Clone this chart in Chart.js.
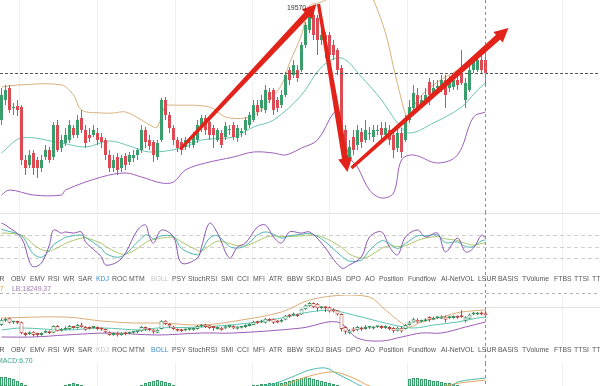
<!DOCTYPE html>
<html>
<head>
<meta charset="utf-8">
<script src="https://cdn.jsdelivr.net/npm/chart.js@4.4.1/dist/chart.umd.min.js"></script>
<style>
  html, body { margin: 0; padding: 0; background: #fff; }
  #wrap { position: relative; width: 600px; height: 386px; overflow: hidden; font-family: "Liberation Sans", Arial, sans-serif; }
  canvas { position: absolute; left: 0; display: block; }
  .row { position: absolute; left: 0; width: 600px; height: 10px; }
  .row span { position: absolute; top: 0; font-size: 8px; line-height: 10px; color: #555; white-space: nowrap; transform: scaleX(0.86); transform-origin: 0 50%; }
  .lbl { position: absolute; font-size: 8px; line-height: 10px; white-space: nowrap; transform: scaleX(0.86); transform-origin: 0 50%; }
</style>
</head>
<body>
<div id="wrap">
  <canvas id="main" width="600" height="212" style="top:0"></canvas>
  <canvas id="kdj" width="600" height="83" style="top:212px"></canvas>
  <canvas id="mini" width="600" height="68" style="top:295px"></canvas>
  <canvas id="macd" width="600" height="23" style="top:363px"></canvas>
  <div class="row" id="tabs1" style="top:274px"></div>
  <div class="row" id="tabs2" style="top:345px"></div>
  <div class="lbl" style="top:284px; right:596px; color:#e0a04a; transform-origin:100% 50%">UB:19470.17</div>
  <div class="lbl" style="top:284px; left:12px; color:#a27bb6">LB:18249.37</div>
  <div class="lbl" style="top:356px; left:-3px; color:#36a58a">MACD:6.70</div>
  <div class="lbl" id="hiLabel" style="color:#333"></div>
</div>
<script>
// candles (one per slot, newest last)
const opens = [
  19020,19120,19180,19080,19090,19085,18820,18795,18855,18820,
  18780,18835,18870,18835,18995,18880,18905,18920,18980,18945,
  19030,18970,18945,18945,18955,18935,18920,18845,18780,18835,
  18780,18840,18810,18830,18845,18870,18970,18920,18910,18835,
  18920,19120,19045,18980,18920,18910,18885,18905,18895,18920,
  18980,19030,19010,18980,18920,18955,18935,18970,18995,18930,
  18955,18970,18995,19020,19095,19080,19070,19160,19170,19120,
  19095,19145,19270,19245,19270,19270,19395,19470,19545,19530,
  19420,19445,19445,19395,19370,19280,18970,18820,18935,18895,
  18960,18920,18950,18935,18965,18980,18945,18970,18945,18880,
  18955,18920,19020,19080,19145,19095,19110,19210,19145,19180,
  19170,19220,19180,19185,19220,19255,19120,19170,19270,19270,
  19320,19320
];
const highs = [
  19180,19195,19195,19105,19120,19095,18845,18870,18870,18835,
  18845,18895,18885,19010,19020,18945,18980,19020,18995,19045,
  19070,18995,18980,18995,18980,18955,18930,18870,18845,18855,
  18845,18855,18860,18870,18880,18995,18985,18945,18920,18920,
  19130,19135,19060,18995,18935,18930,18935,18930,18960,19020,
  19045,19045,19020,18995,18980,18970,19010,18995,19010,18995,
  18980,19035,19060,19120,19120,19145,19195,19180,19180,19135,
  19170,19260,19285,19320,19295,19410,19510,19570,19560,19545,
  19470,19460,19460,19420,19380,19295,18995,18920,18970,18995,
  18980,19020,18985,18995,18995,19010,19010,18995,18970,18980,
  18980,19045,19120,19195,19180,19145,19180,19230,19220,19220,
  19245,19245,19240,19245,19245,19370,19230,19295,19335,19330,
  19345,19360
];
const lows = [
  18995,19095,19055,19045,19040,18795,18745,18780,18745,18730,
  18760,18820,18805,18820,18860,18860,18890,18905,18930,18930,
  18955,18880,18910,18935,18895,18880,18820,18760,18760,18745,
  18760,18770,18795,18810,18820,18855,18880,18870,18810,18820,
  18910,19020,18955,18895,18860,18845,18870,18880,18880,18905,
  18960,18945,18920,18880,18910,18880,18920,18945,18920,18910,
  18935,18945,18980,19010,19040,19060,19055,19105,19045,19060,
  19080,19135,19195,19230,19210,19260,19380,19455,19420,19345,
  19395,19330,19320,19320,19245,18860,18795,18795,18845,18870,
  18880,18905,18920,18910,18945,18920,18920,18895,18830,18860,
  18830,18910,19005,19070,19060,19080,19095,19095,19130,19160,
  19160,19080,19160,19170,19170,19195,19080,19160,19255,19260,
  19255,19195
];
const closes = [
  19145,19170,19070,19085,19070,18820,18780,18845,18780,18780,
  18820,18870,18820,18995,18870,18920,18945,18995,18945,19020,
  18970,18905,18930,18970,18920,18910,18845,18780,18820,18770,
  18830,18795,18845,18845,18870,18970,18910,18890,18845,18905,
  19120,19045,18980,18920,18880,18870,18920,18910,18945,18995,
  19030,18970,18945,18945,18970,18895,18990,18975,18935,18980,
  18965,19020,19045,19095,19060,19120,19170,19120,19070,19080,
  19145,19245,19220,19295,19230,19395,19495,19545,19445,19420,
  19445,19420,19345,19345,19270,18920,18855,18885,18870,18970,
  18910,18970,18955,18970,18970,18945,18980,18920,18870,18955,
  18860,19020,19085,19155,19080,19120,19145,19145,19180,19190,
  19220,19145,19220,19220,19195,19205,19205,19270,19320,19320,
  19270,19255
];

// main BOLL (candle index -> value)
const ubIdx = [0,4,15,18,20,25,28,31,35,38,39,41,42,52,56,61,64,67,70,72,75,77,80,83,85,90,93,96,98,100,101,102,104,109,114,117,121];
const ubVals = [19185,19195,19195,19145,19070,19055,19055,19060,19020,18985,18985,19095,19095,19085,19035,19030,19055,19120,19195,19305,19445,19590,19610,19645,19695,19745,19620,19455,19285,19120,19050,19030,19120,19210,19270,19320,19370];
const mbIdx = [0,5,15,21,27,32,37,45,50,58,63,68,75,80,85,90,95,99,102,108,115,119,121];
const mbVals = [18855,18930,18905,18885,18915,18890,18860,18880,18920,18935,18985,19020,19145,19285,19330,19235,19120,19005,18955,19005,19085,19170,19205];
const lbIdx = [0,2,8,15,16,25,31,35,40,43,46,51,58,63,68,71,75,79,83,84,87,89,92,95,98,100,103,109,114,118,121];
const lbVals = [18645,18670,18645,18645,18670,18735,18755,18735,18705,18710,18770,18805,18835,18860,18855,18845,18880,18920,19055,19045,18835,18785,18670,18630,18655,18820,18845,18805,18845,19035,19060];

// trend arrows: start / end (candle index, price)
const arrowFromX = [44.75, 79.25, 87.5];
const arrowFromY = [18875, 19600, 18780];
const arrowToX = [78.75, 86.5, 126.75];
const arrowToY = [19600, 18760, 19480];

// KDJ
const kdjIdx = [0,1,5,7,8,10,12,13,15,16,18,20,21,25,26,29,31,34,36,37,38,40,43,45,49,50,52,54,57,59,61,64,66,68,70,72,75,77,80,85,87,90,92,95,97,99,101,104,106,109,111,114,116,118,120,121];
const jVals = [111,106,72,10,-3,7,55,93,85,88,85,88,62,23,2,10,33,93,106,75,59,93,75,7,20,49,111,85,20,49,59,101,106,75,59,88,85,88,59,-6,2,23,75,88,49,28,75,93,75,85,36,72,36,46,80,72];
const kVals = [95,92,78,45,30,22,40,55,68,74,78,80,74,45,32,22,30,62,80,78,70,78,76,45,28,38,72,78,50,46,52,80,88,82,72,78,82,84,70,25,12,15,40,65,58,45,58,78,78,80,60,62,50,50,65,67];
const dVals = [85,85,80,65,55,42,38,42,52,58,66,72,73,58,50,34,30,45,60,66,68,72,74,62,40,38,52,64,58,52,52,64,74,78,76,76,78,80,76,48,30,20,25,45,52,50,52,66,72,76,70,66,58,54,58,60];

// BOLL sub panel
const muIdx = [0,16,25,33,40,50,60,70,77,86,92,96,100,102,105,110,115,121];
const muVals = [19186,19210,19114,19066,19066,19018,19138,19330,19618,19738,19690,19378,19066,18970,19090,19210,19330,19378];
const mmIdx = [0,5,16,25,35,39,50,62,70,77,83,85,91,98,103,108,114,119,121];
const mmVals = [18898,18946,18898,18946,18898,18946,18970,19066,19186,19330,19378,19330,19186,19018,18946,19018,19090,19186,19210];
const mlIdx = [0,8,16,27,39,50,58,75,84,89,95,100,105,110,116,121];
const mlVals = [18730,18730,18778,18826,18778,18826,18826,18946,19090,18706,18634,18730,18826,18826,18970,19090];

// MACD
const macdHist = [
  9,9,8,7,5,3,1,
  -2,-4,-6,-7,-6,-5,-3,-2,-1,
  1,2,3,2,1,
  -1,-2,-4,-6,-7,-8,-8,-7,-6,-5,-4,-3,-2,-1,
  1,3,4,5,6,5,4,3,1,
  -1,-2,-3,-3,-2,-2,-1,-1,-2,-2,-1,-1,-1,-1,-1,-1,-1,-1,-1,
  1,1,2,2,3,3,4,3,4,5,6,7,8,9,8,7,6,5,4,3,2,1,
  -3,-6,-9,-10,-10,-9,-8,-7,-6,-5,-4,-3,-3,-2,-2,-1,-1,
  7,8,8,7,7,6,5,5,4,3,3,2,1,
  -1,-1,-2,-1,-1,-1,-1
];
const difIdx = [0,30,50,66,68,72,75,77,81,84,87,90,100,106,112,114,121];
const difVals = [-5,-10,-6,0,2,8,13,16,18,12,6,0,-10,-5,-2,4,8];
const deaIdx = [0,30,50,70,74,78,83,88,92,100,108,113,121];
const deaVals = [-3,-8,-7,0,6,11,14,8,0,-8,-3,2,6];

// vertical grid positions (candle index)
const gridAt = [4.5, 24, 43.5, 62.75, 82, 101.5, 140.25];

const tabNames = ['VR','OBV','EMV','RSI','WR','SAR','KDJ','ROC','MTM','BOLL','PSY','StochRSI','SMI','CCI','MFI','ATR','BBW','SKDJ','BIAS','DPO','AO','Position','Fundflow','AI-NetVOL','LSUR','BASIS','TVolume','FTBS','TTSI','TTS'];
const tabLeft = [-5,11,30,48,63,78,96,112,129,151,172,188,221,237,253,269,287,306,326,346,365,379,408,441,478,498,522,554,574,592];

const GREEN = '#3a9e6c', RED = '#dc4b53';
const lastIdx = closes.length - 1;
const candleIdx = closes.map((_, i) => i);
const isUp = i => closes[i] >= opens[i];
const pts = (xs, ys) => xs.map((x, k) => ({ x, y: ys[k] }));

function fillTabs(el, active, muted) {
  tabNames.forEach((t, k) => {
    const s = document.createElement('span');
    s.textContent = t;
    s.style.left = tabLeft[k] + 'px';
    if (t === active) s.style.color = '#3d8fd6';
    if (t === muted) s.style.color = '#c4c4c4';
    el.appendChild(s);
  });
}
fillTabs(document.getElementById('tabs1'), 'KDJ', 'BOLL');
fillTabs(document.getElementById('tabs2'), 'BOLL', 'KDJ');

const lineDs = (xs, ys, color, width) => ({
  type: 'line', data: pts(xs, ys), borderColor: color, borderWidth: width || 1,
  pointRadius: 0, tension: 0.35, fill: false
});

const opts = (yMin, yMax, padding) => ({
  responsive: false, animation: false, events: [],
  layout: { padding },
  plugins: { legend: { display: false }, tooltip: { enabled: false } },
  scales: {
    x: { type: 'linear', min: -0.375, max: 149.625, display: false, offset: false },
    y: { min: yMin, max: yMax, display: false }
  }
});

function hLine(ctx, y, x0, x1) { ctx.beginPath(); ctx.moveTo(x0, y); ctx.lineTo(x1, y); ctx.stroke(); }
function vLine(ctx, x, y0, y1) { ctx.beginPath(); ctx.moveTo(x, y0); ctx.lineTo(x, y1); ctx.stroke(); }

const framePlugin = cfg => ({
  id: 'frame',
  beforeDatasetsDraw(chart) {
    const { ctx, scales: { x, y }, width, chartArea } = chart;
    ctx.save();
    ctx.lineWidth = 1;
    ctx.strokeStyle = '#efefef';
    gridAt.forEach(v => vLine(ctx, Math.floor(x.getPixelForValue(v)) + 0.5, chartArea.top, chartArea.bottom));
    ctx.strokeStyle = '#e2e2e2';
    (cfg.solidRows || []).forEach(py => hLine(ctx, py, 0, width));
    ctx.strokeStyle = '#cfcfcf';
    ctx.setLineDash([4, 3]);
    (cfg.levels || []).forEach(v => hLine(ctx, Math.round(y.getPixelForValue(v)) + 0.5, 0, width));
    ctx.restore();
  },
  afterDatasetsDraw(chart) {
    const { ctx, scales: { x, y }, width, height } = chart;
    ctx.save();
    ctx.lineWidth = 1;
    ctx.setLineDash([3, 3]);
    ctx.strokeStyle = '#b3b3b3';
    (cfg.dashRows || []).forEach(py => hLine(ctx, py, 0, width));
    if (cfg.priceLine) {
      ctx.strokeStyle = '#555';
      ctx.setLineDash([3, 2]);
      hLine(ctx, Math.round(y.getPixelForValue(closes[lastIdx])) + 0.5, 0, width);
    }
    ctx.strokeStyle = '#8f8f8f';
    ctx.setLineDash([3, 3]);
    vLine(ctx, Math.floor(x.getPixelForValue(lastIdx)) + 0.5, 0, height);
    ctx.restore();
  }
});

const arrowPlugin = {
  id: 'arrows',
  afterDatasetsDraw(chart) {
    const ctx = chart.ctx;
    ctx.save();
    ctx.fillStyle = '#e2231a';
    chart.data.datasets.forEach((ds, di) => {
      if (!ds.arrow) return;
      const el = chart.getDatasetMeta(di).data;
      const a = el[0], b = el[1];
      const ang = Math.atan2(b.y - a.y, b.x - a.x);
      const c = Math.cos(ang), s = Math.sin(ang);
      const L = 14, W = 7;
      const nx = b.x - L * 0.8 * c, ny = b.y - L * 0.8 * s;
      // tapered shaft
      ctx.beginPath();
      ctx.moveTo(a.x + 1.6 * s, a.y - 1.6 * c);
      ctx.lineTo(nx + 3.2 * s, ny - 3.2 * c);
      ctx.lineTo(nx - 3.2 * s, ny + 3.2 * c);
      ctx.lineTo(a.x - 1.6 * s, a.y + 1.6 * c);
      ctx.closePath();
      ctx.fill();
      // head
      ctx.beginPath();
      ctx.moveTo(b.x, b.y);
      ctx.lineTo(b.x - L * c + W * s, b.y - L * s - W * c);
      ctx.lineTo(b.x - L * c - W * s, b.y - L * s + W * c);
      ctx.closePath();
      ctx.fill();
    });
    ctx.restore();
  }
};

const candleColors = candleIdx.map(i => isUp(i) ? GREEN : RED);

const arrowSets = arrowFromX.map((_, k) => ({
  type: 'line', arrow: true, showLine: false, pointRadius: 0,
  data: [{ x: arrowFromX[k], y: arrowFromY[k] }, { x: arrowToX[k], y: arrowToY[k] }]
}));

const mainChart = new Chart(document.getElementById('main'), {
  type: 'bar',
  data: {
    datasets: [
      ...arrowSets,
      { data: candleIdx.map(i => ({ x: i, y: [opens[i], closes[i]] })), backgroundColor: candleColors,
        barThickness: 3, grouped: false, minBarLength: 1, inflateAmount: 0 },
      { data: candleIdx.map(i => ({ x: i, y: [lows[i], highs[i]] })), backgroundColor: candleColors,
        barThickness: 1, grouped: false, inflateAmount: 0 },
      lineDs(ubIdx, ubVals, '#d8b07c'),
      lineDs(mbIdx, mbVals, '#6cc6b4'),
      lineDs(lbIdx, lbVals, '#9c5fb8')
    ]
  },
  options: opts(18560, 19620, 0),
  plugins: [framePlugin({ priceLine: true }), arrowPlugin]
});

// peak label
const hiIdx = highs.indexOf(Math.max(...highs));
const hi = document.getElementById('hiLabel');
hi.textContent = highs[hiIdx];
const hx = mainChart.scales.x.getPixelForValue(hiIdx);
const hy = mainChart.scales.y.getPixelForValue(highs[hiIdx]);
hi.style.left = (hx - 4 - hi.offsetWidth * 0.86) + 'px';
hi.style.top = (hy - 7) + 'px';

new Chart(document.getElementById('kdj'), {
  type: 'line',
  data: {
    datasets: [
      lineDs(kdjIdx, jVals, '#8a55b0'),
      lineDs(kdjIdx, kVals, '#4fb3b0'),
      lineDs(kdjIdx, dVals, '#a9c46a')
    ]
  },
  options: opts(-16.5, 137.5, { top: 1, bottom: 23 }),
  plugins: [framePlugin({ solidRows: [1.5], levels: [80, 50, 20], dashRows: [81.5] })]
});

new Chart(document.getElementById('mini'), {
  type: 'bar',
  data: {
    datasets: [
      { data: candleIdx.map(i => ({ x: i, y: [opens[i], closes[i]] })), backgroundColor: '#fff',
        borderColor: candleIdx.map(i => isUp(i) ? '#3f8f62' : '#b5483f'), borderWidth: 1, borderSkipped: false,
        barThickness: 4, grouped: false, minBarLength: 2, inflateAmount: 0 },
      { data: candleIdx.map(i => ({ x: i, y: [lows[i], highs[i]] })),
        backgroundColor: candleIdx.map(i => isUp(i) ? '#3f8f62' : '#b5483f'),
        barThickness: 1, grouped: false, inflateAmount: 0 },
      lineDs(muIdx, muVals, '#d9ad78'),
      lineDs(mmIdx, mmVals, '#5ec2b0'),
      lineDs(mlIdx, mlVals, '#9a5db5')
    ]
  },
  options: opts(18514, 19738, { top: 0, bottom: 17 }),
  plugins: [framePlugin({ solidRows: [12.5] })]
});

new Chart(document.getElementById('macd'), {
  type: 'bar',
  data: {
    datasets: [
      lineDs(difIdx, difVals, '#4fb8a8'),
      lineDs(deaIdx, deaVals, '#e0a860'),
      { data: candleIdx.map(i => ({ x: i, y: macdHist[i] })), backgroundColor: 'rgba(80,180,130,0.35)',
        borderColor: '#3a9e6c', borderWidth: 1, borderSkipped: false, barThickness: 3, grouped: false, inflateAmount: 0 }
    ]
  },
  options: opts(0, 23, 0),
  plugins: [framePlugin({})]
});
</script>
</body>
</html>
